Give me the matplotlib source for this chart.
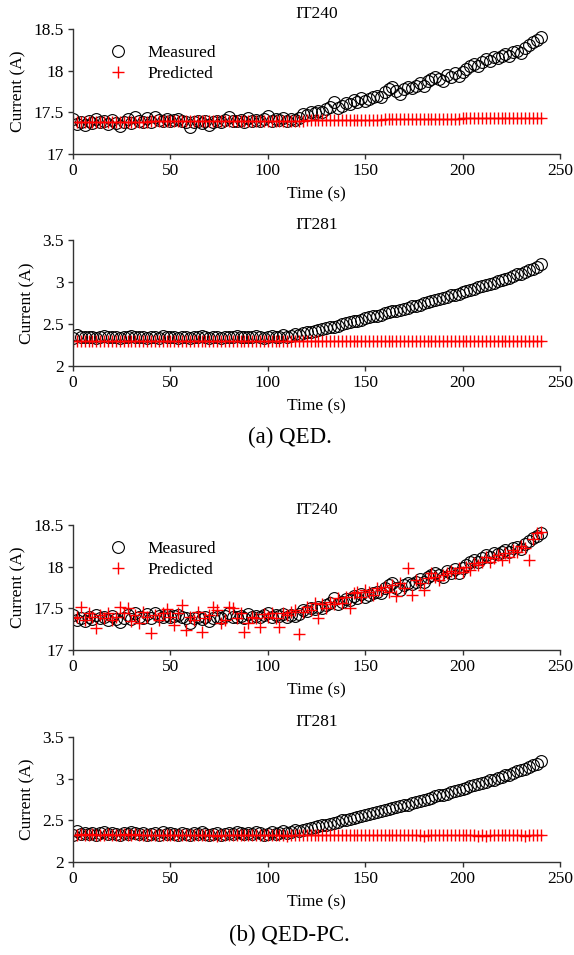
import numpy as np
import matplotlib
matplotlib.use("Agg")
import matplotlib.pyplot as plt

plt.rcParams['font.family'] = ['Liberation Serif', 'DejaVu Serif']
plt.rcParams['font.size'] = 12.5

# sampling time (s), one sample every 2 s
time = np.arange(0, 242, 2)

# measured currents (same measurement in both cases)
it240_measured = [
    17.42, 17.36, 17.38, 17.35, 17.40, 17.37, 17.42, 17.38, 17.40, 17.36,
    17.41, 17.37, 17.34, 17.38, 17.42, 17.37, 17.44, 17.40, 17.38, 17.43,
    17.38, 17.44, 17.41, 17.40, 17.42, 17.39, 17.41, 17.42, 17.40, 17.38,
    17.33, 17.38, 17.40, 17.37, 17.39, 17.35, 17.38, 17.40, 17.38, 17.41,
    17.44, 17.40, 17.39, 17.41, 17.38, 17.43, 17.40, 17.41, 17.39, 17.42,
    17.45, 17.40, 17.42, 17.41, 17.43, 17.40, 17.42, 17.41, 17.43, 17.48,
    17.47, 17.50, 17.49, 17.52, 17.50, 17.54, 17.56, 17.62, 17.55, 17.58,
    17.61, 17.60, 17.65, 17.63, 17.67, 17.64, 17.66, 17.68, 17.70, 17.68,
    17.74, 17.78, 17.80, 17.75, 17.72, 17.78, 17.80, 17.79, 17.82, 17.85,
    17.82, 17.88, 17.90, 17.92, 17.90, 17.88, 17.95, 17.92, 17.97, 17.93,
    17.98, 18.02, 18.05, 18.08, 18.06, 18.10, 18.14, 18.12, 18.16, 18.15,
    18.18, 18.20, 18.17, 18.22, 18.24, 18.21, 18.27, 18.31, 18.34, 18.37,
    18.40]

it281_measured = [
    2.33, 2.37, 2.34, 2.35, 2.34, 2.35, 2.33, 2.35, 2.36, 2.34,
    2.35, 2.34, 2.33, 2.35, 2.34, 2.36, 2.35, 2.34, 2.35, 2.33,
    2.34, 2.35, 2.33, 2.36, 2.34, 2.35, 2.34, 2.33, 2.35, 2.34,
    2.33, 2.35, 2.34, 2.36, 2.34, 2.33, 2.34, 2.35, 2.33, 2.34,
    2.35, 2.34, 2.36, 2.35, 2.34, 2.35, 2.34, 2.36, 2.35, 2.33,
    2.34, 2.36, 2.34, 2.35, 2.37, 2.35, 2.36, 2.38, 2.37, 2.39,
    2.40, 2.41, 2.42, 2.43, 2.44, 2.45, 2.46, 2.47, 2.48, 2.50,
    2.51, 2.52, 2.53, 2.54, 2.55, 2.57, 2.58, 2.59, 2.60, 2.61,
    2.63, 2.64, 2.65, 2.66, 2.67, 2.68, 2.69, 2.71, 2.72, 2.73,
    2.75, 2.76, 2.77, 2.79, 2.80, 2.81, 2.82, 2.84, 2.85, 2.86,
    2.88, 2.89, 2.91, 2.92, 2.94, 2.95, 2.96, 2.98, 2.99, 3.01,
    3.02, 3.04, 3.05, 3.07, 3.09, 3.10, 3.12, 3.14, 3.16, 3.18,
    3.21]

# (a) QED predictions
it240_pred_qed = [
    17.38, 17.38, 17.38, 17.38, 17.38, 17.38, 17.38, 17.38, 17.38, 17.38,
    17.38, 17.38, 17.38, 17.38, 17.38, 17.38, 17.38, 17.38, 17.38, 17.38,
    17.39, 17.39, 17.39, 17.39, 17.39, 17.39, 17.39, 17.39, 17.39, 17.39,
    17.39, 17.39, 17.39, 17.39, 17.39, 17.39, 17.39, 17.39, 17.39, 17.39,
    17.40, 17.40, 17.40, 17.40, 17.40, 17.40, 17.40, 17.40, 17.40, 17.40,
    17.40, 17.40, 17.40, 17.40, 17.40, 17.40, 17.40, 17.40, 17.40, 17.40,
    17.41, 17.41, 17.41, 17.41, 17.41, 17.41, 17.41, 17.41, 17.41, 17.41,
    17.41, 17.41, 17.41, 17.41, 17.41, 17.41, 17.41, 17.41, 17.41, 17.41,
    17.42, 17.42, 17.42, 17.42, 17.42, 17.42, 17.42, 17.42, 17.42, 17.42,
    17.42, 17.42, 17.42, 17.42, 17.42, 17.42, 17.42, 17.42, 17.42, 17.42,
    17.43, 17.43, 17.43, 17.43, 17.43, 17.43, 17.43, 17.43, 17.43, 17.43,
    17.43, 17.43, 17.43, 17.43, 17.43, 17.43, 17.43, 17.43, 17.43, 17.43,
    17.43]

it281_pred_qed = [
    2.30, 2.30, 2.30, 2.30, 2.30, 2.30, 2.30, 2.30, 2.30, 2.30,
    2.30, 2.30, 2.30, 2.30, 2.30, 2.30, 2.30, 2.30, 2.30, 2.30,
    2.30, 2.30, 2.30, 2.30, 2.30, 2.30, 2.30, 2.30, 2.30, 2.30,
    2.30, 2.30, 2.30, 2.30, 2.30, 2.30, 2.30, 2.30, 2.30, 2.30,
    2.30, 2.30, 2.30, 2.30, 2.30, 2.30, 2.30, 2.30, 2.30, 2.30,
    2.30, 2.30, 2.30, 2.30, 2.30, 2.30, 2.30, 2.30, 2.30, 2.30,
    2.30, 2.30, 2.30, 2.30, 2.30, 2.30, 2.30, 2.30, 2.30, 2.30,
    2.30, 2.30, 2.30, 2.30, 2.30, 2.30, 2.30, 2.30, 2.30, 2.30,
    2.30, 2.30, 2.30, 2.30, 2.30, 2.30, 2.30, 2.30, 2.30, 2.30,
    2.30, 2.30, 2.30, 2.30, 2.30, 2.30, 2.30, 2.30, 2.30, 2.30,
    2.30, 2.30, 2.30, 2.30, 2.30, 2.30, 2.30, 2.30, 2.30, 2.30,
    2.30, 2.30, 2.30, 2.30, 2.30, 2.30, 2.30, 2.30, 2.30, 2.30,
    2.30]

# (b) QED-PC predictions
it240_pred_pc = [
    17.38, 17.40, 17.52, 17.36, 17.44, 17.40, 17.27, 17.42, 17.38, 17.45,
    17.36, 17.40, 17.52, 17.44, 17.50, 17.35, 17.42, 17.33, 17.46, 17.39,
    17.20, 17.42, 17.36, 17.44, 17.49, 17.40, 17.30, 17.45, 17.54, 17.24,
    17.40, 17.36, 17.46, 17.21, 17.38, 17.42, 17.52, 17.48, 17.33, 17.36,
    17.52, 17.50, 17.38, 17.44, 17.22, 17.32, 17.40, 17.38, 17.28, 17.43,
    17.40, 17.44, 17.38, 17.28, 17.45, 17.42, 17.46, 17.48, 17.19, 17.46,
    17.52, 17.48, 17.56, 17.38, 17.55, 17.50, 17.58, 17.55, 17.62, 17.57,
    17.64, 17.50, 17.68, 17.70, 17.64, 17.72, 17.70, 17.66, 17.74, 17.72,
    17.76, 17.70, 17.78, 17.65, 17.80, 17.74, 17.99, 17.66, 17.84, 17.80,
    17.72, 17.86, 17.92, 17.88, 17.84, 17.90, 17.93, 17.95, 17.92, 17.98,
    17.94, 18.00, 17.96, 18.04, 18.02, 18.05, 18.12, 18.06, 18.10, 18.14,
    18.08, 18.16, 18.12, 18.20, 18.18, 18.25, 18.22, 18.08, 18.33, 18.40,
    18.42]

it281_pred_pc = [
    2.33, 2.33, 2.34, 2.33, 2.33, 2.34, 2.33, 2.33, 2.33, 2.34,
    2.33, 2.33, 2.33, 2.34, 2.33, 2.33, 2.34, 2.33, 2.32, 2.33,
    2.32, 2.33, 2.33, 2.32, 2.33, 2.32, 2.33, 2.32, 2.33, 2.32,
    2.32, 2.33, 2.32, 2.32, 2.33, 2.32, 2.32, 2.31, 2.32, 2.33,
    2.32, 2.33, 2.32, 2.32, 2.33, 2.32, 2.33, 2.32, 2.32, 2.33,
    2.32, 2.32, 2.33, 2.32, 2.32, 2.31, 2.32, 2.32, 2.33, 2.32,
    2.32, 2.32, 2.33, 2.32, 2.32, 2.32, 2.33, 2.32, 2.32, 2.33,
    2.32, 2.32, 2.32, 2.33, 2.32, 2.32, 2.32, 2.32, 2.33, 2.32,
    2.32, 2.32, 2.33, 2.32, 2.32, 2.32, 2.32, 2.32, 2.32, 2.32,
    2.31, 2.32, 2.32, 2.32, 2.32, 2.32, 2.32, 2.33, 2.32, 2.32,
    2.32, 2.32, 2.32, 2.32, 2.31, 2.32, 2.31, 2.32, 2.32, 2.32,
    2.32, 2.32, 2.32, 2.32, 2.32, 2.32, 2.31, 2.32, 2.32, 2.32,
    2.32]

W, H = 574, 955
fig = plt.figure(figsize=(W / 100, H / 100), dpi=100)
FS = 12.5


def add_panel(top_px, bottom_px, title, measured, predicted, ylim, yticks,
              yticklabels, legend=False):
    ax = fig.add_axes([73 / W, 1 - bottom_px / H, 487 / W,
                       (bottom_px - top_px) / H])
    ax.plot(time, measured, linestyle='none', marker='o', markersize=8.5,
            markerfacecolor='none', markeredgecolor='black',
            markeredgewidth=0.8, label='Measured')
    ax.plot(time, predicted, linestyle='none', marker='+', markersize=9,
            color='red', markeredgewidth=1.0, label='Predicted')
    ax.set_xlim(0, 250)
    ax.set_ylim(*ylim)
    ax.set_xticks([0, 50, 100, 150, 200, 250])
    ax.set_yticks(yticks)
    ax.set_yticklabels(yticklabels)
    for s in ['top', 'right']:
        ax.spines[s].set_visible(False)
    for s in ['left', 'bottom']:
        ax.spines[s].set_color('#333333')
        ax.spines[s].set_linewidth(1.0)
    ax.tick_params(direction='out', length=3.5, width=1.0, color='#333333',
                   labelsize=FS, pad=3)
    ax.set_title(title, fontsize=FS, pad=8)
    ax.set_xlabel('Time (s)', fontsize=FS, labelpad=5.5)
    ax.set_ylabel('Current (A)', fontsize=FS, labelpad=5)
    if legend:
        ax.legend(loc='upper left', bbox_to_anchor=(0.074, 0.87),
                  frameon=False, numpoints=1, handlelength=1.0,
                  handletextpad=1.2, labelspacing=0.25, borderpad=0,
                  borderaxespad=0, fontsize=FS)
    return ax


add_panel(29, 154, 'IT240', it240_measured, it240_pred_qed, (17, 18.5),
          [17, 17.5, 18, 18.5], ['17', '17.5', '18', '18.5'], legend=True)
add_panel(240, 366, 'IT281', it281_measured, it281_pred_qed, (2, 3.5),
          [2, 2.5, 3, 3.5], ['2', '2.5', '3', '3.5'])
add_panel(525, 650, 'IT240', it240_measured, it240_pred_pc, (17, 18.5),
          [17, 17.5, 18, 18.5], ['17', '17.5', '18', '18.5'], legend=True)
add_panel(737, 862, 'IT281', it281_measured, it281_pred_pc, (2, 3.5),
          [2, 2.5, 3, 3.5], ['2', '2.5', '3', '3.5'])

fig.text(0.505, 1 - 437 / H, '(a) QED.', ha='center', va='center',
         fontsize=16.5)
fig.text(0.505, 1 - 935 / H, '(b) QED-PC.', ha='center', va='center',
         fontsize=16.5)

fig.savefig('out.png', dpi=100)
